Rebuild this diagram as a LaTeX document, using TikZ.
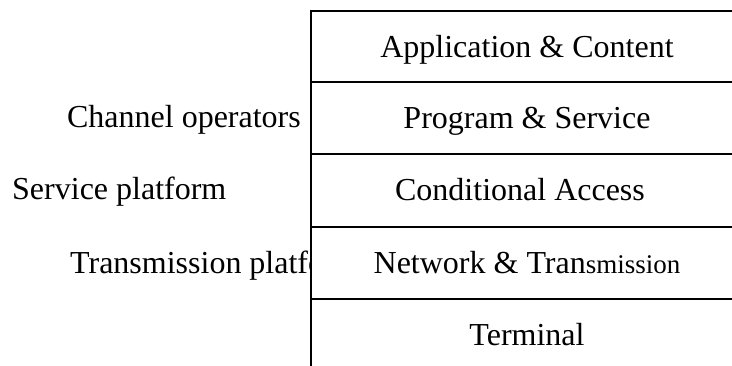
\documentclass[tikz,border=0pt]{standalone}
\usepackage{fontspec}
\setmainfont{Liberation Serif}
\begin{document}
\begin{tikzpicture}[x=1pt,y=-1pt,
  layer/.style={draw=black,line width=1.6pt,fill=white},
  lbl/.style={inner sep=0pt,anchor=base,font=\fontsize{32}{38}\selectfont},
  side/.style={inner sep=0pt,font=\fontsize{32}{38}\selectfont}]
\clip (0,0) rectangle (732,365);
% labels on the left (the last one runs under the stack)
\node[side,anchor=base east] (chan) at (301,127) {Channel operators};
\node[side,anchor=base west] (serv) at (12,199) {Service platform};
\node[side,anchor=base west] (trans) at (70,273) {Transmission platform};
% the layer stack, open to the right and below
\draw[layer] (311,10.7) rectangle (760,81.7);
\draw[layer] (311,81.7) rectangle (760,154);
\draw[layer] (311,154) rectangle (760,226.7);
\draw[layer] (311,226.7) rectangle (760,299);
\draw[layer] (311,299) rectangle (760,400);
% layer names
\node[lbl] (app) at (527,57) {Application \& Content};
\node[lbl] (prog) at (527,128) {Program \& Service};
\node[lbl] (ca) at (520,200) {Conditional Access};
\node[lbl] (net) at (527,273) {Network \& Tran{\fontsize{27}{32}\selectfont smission}};
\node[lbl] (term) at (527,345) {Terminal};
\end{tikzpicture}
\end{document}
